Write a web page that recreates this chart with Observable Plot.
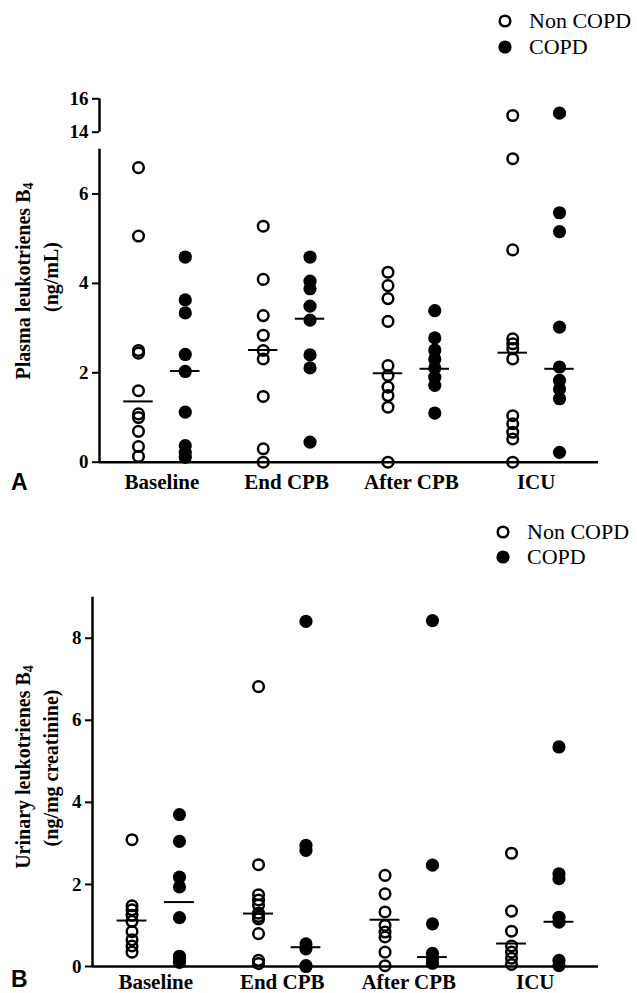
<!DOCTYPE html>
<html><head><meta charset="utf-8">
<script src="https://cdn.jsdelivr.net/npm/d3@7"></script>
<script src="https://cdn.jsdelivr.net/npm/@observablehq/plot@0.6"></script>
<style>
html,body{margin:0;padding:0;background:#fff;}
#wrap{position:relative;width:637px;height:993px;overflow:hidden;}
.panel{position:absolute;left:0;}
.lg{position:absolute;height:26px;display:flex;align-items:center;font-family:"Liberation Serif",serif;font-size:22px;color:#000;white-space:nowrap;}
.lg svg{margin-right:17px;flex:none;}
</style></head><body><div id="wrap"></div>
<script>
// ---------- data ----------
const timepoints = ["Baseline", "End CPB", "After CPB", "ICU"];
const groups = ["Non COPD", "COPD"];

// Panel A: plasma leukotrienes B4 (ng/mL), one array per time point
const plasmaNonCOPD = [
  [6.59, 5.06, 2.50, 2.44, 1.60, 1.08, 1.00, 0.69, 0.35, 0.13],
  [5.28, 4.09, 3.28, 2.84, 2.50, 2.31, 1.47, 0.30, 0.00],
  [4.25, 3.95, 3.66, 3.15, 2.16, 1.94, 1.68, 1.49, 1.23, 0.00],
  [15.0, 6.79, 4.75, 2.76, 2.65, 2.54, 2.31, 1.04, 0.86, 0.67, 0.52, 0.00]
];
const plasmaCOPD = [
  [4.59, 3.63, 3.34, 2.41, 2.03, 1.12, 0.37, 0.22, 0.11],
  [4.59, 4.05, 3.88, 3.49, 3.18, 2.40, 2.11, 0.45],
  [3.39, 2.78, 2.51, 2.31, 2.11, 1.90, 1.72, 1.10],
  [15.14, 5.58, 5.16, 3.02, 2.13, 1.83, 1.64, 1.42, 0.22]
];
const plasmaMedianNonCOPD = [1.36, 2.51, 1.99, 2.45];
const plasmaMedianCOPD = [2.04, 3.21, 2.09, 2.09];
const plasmaTicks = [0, 2, 4, 6, 14, 16];

// Panel B: urinary leukotrienes B4 (ng/mg creatinine)
const urinaryNonCOPD = [
  [3.09, 1.48, 1.38, 1.25, 1.10, 0.85, 0.65, 0.50, 0.35],
  [6.82, 2.48, 1.75, 1.62, 1.50, 1.30, 1.22, 1.16, 0.80, 0.15, 0.07],
  [2.22, 1.77, 1.33, 1.00, 0.84, 0.72, 0.35, 0.02],
  [2.76, 1.35, 0.86, 0.50, 0.35, 0.20, 0.05]
];
const urinaryCOPD = [
  [3.70, 3.05, 2.18, 1.94, 1.19, 0.25, 0.17, 0.10],
  [8.41, 2.95, 2.83, 0.55, 0.43, 0.02, 0.00],
  [8.43, 2.47, 1.04, 0.32, 0.20, 0.08],
  [5.35, 2.26, 2.14, 1.20, 1.08, 0.15, 0.02]
];
const urinaryMedianNonCOPD = [1.12, 1.29, 1.14, 0.56];
const urinaryMedianCOPD = [1.57, 0.47, 0.23, 1.09];
const urinaryTicks = [0, 2, 4, 6, 8];

// ---------- helpers ----------
const SERIF = "'Liberation Serif', 'Times New Roman', serif";
const OFFSET = 0.1875, HALF = 0.118;
function rows(non, copd) {
  const out = [];
  non.forEach((vals, t) => vals.forEach(v => out.push({t: t + 1, group: groups[0], value: v})));
  copd.forEach((vals, t) => vals.forEach(v => out.push({t: t + 1, group: groups[1], value: v})));
  return out;
}
function medRows(mn, mc) {
  return [...mn.map((v, i) => ({t: i + 1, group: groups[0], value: v})),
          ...mc.map((v, i) => ({t: i + 1, group: groups[1], value: v}))];
}
const xpos = d => d.t + (d.group === groups[1] ? OFFSET : -OFFSET);

function panel(o) {
  const data = rows(o.non, o.copd);
  const meds = medRows(o.medNon, o.medCopd);
  const xDomain = [0.5, 4.5];
  const plot = Plot.plot({
    width: 637, height: o.height,
    marginTop: o.marginTop, marginBottom: o.marginBottom,
    marginLeft: o.marginLeft, marginRight: 39,
    style: {fontFamily: SERIF, fontWeight: "bold", color: "#000", background: "transparent", overflow: "visible"},
    x: {domain: xDomain, axis: null},
    y: {type: "linear", domain: o.yDomain, range: o.yRange, axis: null},
    marks: [
      Plot.ruleX(o.axisSegments, {x: () => xDomain[0], y1: "y1", y2: "y2", strokeWidth: 2.5, stroke: "#000"}),
      Plot.ruleY([0], {strokeWidth: 2.5, stroke: "#000"}),
      Plot.axisY(o.ticks, {anchor: "left", tickSize: 7, tickPadding: 4, strokeWidth: 2, fontSize: 19, fontFamily: SERIF, fontWeight: "bold", label: null}),
      Plot.axisX([1, 2, 3, 4], {anchor: "bottom", tickSize: 0, tickPadding: o.xPad, fontSize: 21, fontFamily: SERIF, fontWeight: "bold", tickFormat: i => timepoints[i - 1], label: null}),
      Plot.dot(data.filter(d => d.group === groups[0]), {x: xpos, y: "value", r: 5.3, stroke: "#000", strokeWidth: 2.5, fill: "none"}),
      Plot.dot(data.filter(d => d.group === groups[1]), {x: xpos, y: "value", r: 6.6, fill: "#000", stroke: "none"}),
      Plot.ruleY(meds, {y: "value", x1: d => xpos(d) - HALF, x2: d => xpos(d) + HALF, stroke: "#000", strokeWidth: 2})
    ]
  });
  const svg = d3.select(plot);
  const t1 = svg.append("text")
    .attr("transform", `translate(${o.title1X},${o.title1Y}) rotate(-90)`)
    .attr("text-anchor", "middle").attr("dominant-baseline", "central")
    .attr("font-family", SERIF).attr("font-weight", "bold").attr("font-size", 20)
    .attr("fill", "#000");
  t1.append("tspan").text(o.title1);
  t1.append("tspan").attr("font-size", 14).attr("dy", 5).text("4");
  svg.append("text")
    .attr("transform", `translate(${o.title2X},${o.title2Y}) rotate(-90)`)
    .attr("text-anchor", "middle").attr("dominant-baseline", "central")
    .attr("font-family", SERIF).attr("font-weight", "bold").attr("font-size", 20)
    .attr("fill", "#000").text(o.title2);
  svg.append("text").attr("x", 11).attr("y", o.letterY).attr("text-anchor", "start")
    .attr("font-family", "'Liberation Sans', Arial, sans-serif").attr("font-weight", "bold").attr("font-size", 23)
    .attr("fill", "#000").text(o.letter);
  return plot;
}

function legend(parent, left, top1, top2) {
  [[groups[0], top1, false], [groups[1], top2, true]].forEach(([name, cy, filled]) => {
    const div = document.createElement("div");
    div.className = "lg";
    div.style.left = left + "px";
    div.style.top = (cy - 13) + "px";
    div.innerHTML = filled
      ? `<svg width="14" height="14"><circle cx="7" cy="7" r="6.6" fill="#000"/></svg><span>${name}</span>`
      : `<svg width="14" height="14"><circle cx="7" cy="7" r="5.3" fill="none" stroke="#000" stroke-width="2.5"/></svg><span>${name}</span>`;
    parent.appendChild(div);
  });
}

const wrap = document.getElementById("wrap");

// Panel A with broken y axis (0–7, then 14–16)
const hA = 500, mtA = 98.3, mbA = 38.3;
const unitLow = 44.7, unitHigh = 16.7;
const bottomA = hA - mbA;
const pA = panel({
  non: plasmaNonCOPD, copd: plasmaCOPD, medNon: plasmaMedianNonCOPD, medCopd: plasmaMedianCOPD,
  ticks: plasmaTicks, height: hA, marginTop: mtA, marginBottom: mbA, marginLeft: 99,
  yDomain: [0, 7, 14, 16],
  yRange: [bottomA, bottomA - 7 * unitLow, mtA + 2 * unitHigh, mtA],
  axisSegments: [{y1: 0, y2: 7}, {y1: 14, y2: 16}],
  xPad: 12,
  title1: "Plasma leukotrienes B", title1X: 23, title1Y: 281,
  title2: "(ng/mL)", title2X: 51, title2Y: 277,
  letter: "A", letterY: 490
});
const dA = document.createElement("div"); dA.className = "panel"; dA.style.top = "0px"; dA.appendChild(pA);
wrap.appendChild(dA);

// Panel B
const hB = 493, mtB = 96.7, mbB = 27;
const pB = panel({
  non: urinaryNonCOPD, copd: urinaryCOPD, medNon: urinaryMedianNonCOPD, medCopd: urinaryMedianCOPD,
  ticks: urinaryTicks, height: hB, marginTop: mtB, marginBottom: mbB, marginLeft: 92,
  yDomain: [0, 9],
  yRange: [hB - mbB, mtB],
  axisSegments: [{y1: 0, y2: 9}],
  xPad: 8,
  title1: "Urinary leukotrienes B", title1X: 23, title1Y: 267,
  title2: "(ng/mg creatinine)", title2X: 51, title2Y: 268,
  letter: "B", letterY: 487
});
const dB = document.createElement("div"); dB.className = "panel"; dB.style.top = "500px"; dB.appendChild(pB);
wrap.appendChild(dB);

legend(wrap, 498, 21.3, 47);
legend(wrap, 496, 531.7, 556.7);
</script></body></html>
